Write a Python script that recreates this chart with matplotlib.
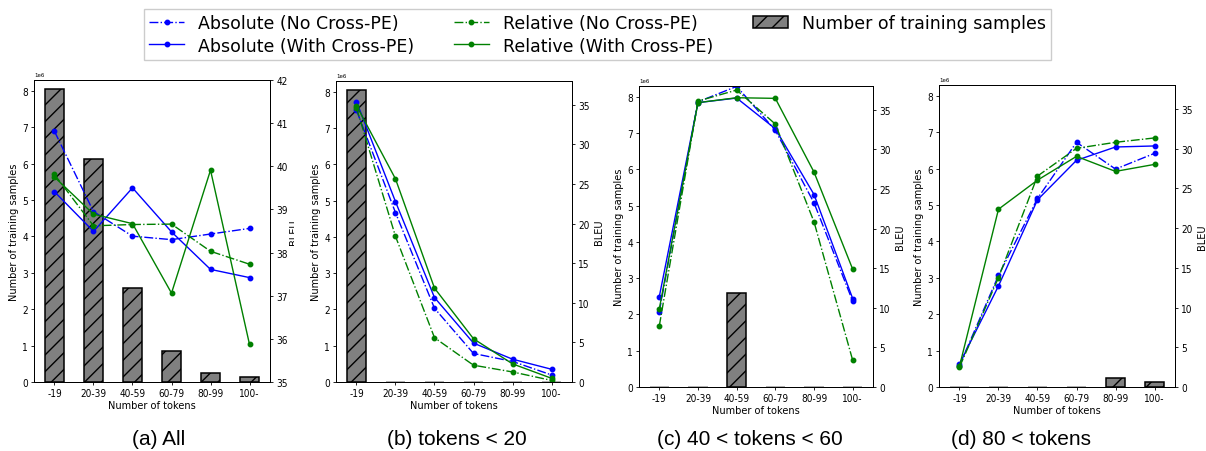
import matplotlib
matplotlib.use("Agg")
import matplotlib.pyplot as plt
from matplotlib.transforms import Bbox
from matplotlib import font_manager as fm
import numpy as np

categories = ["-19", "20-39", "40-59", "60-79", "80-99", "100-"]

# Number of training samples (millions) shown in each panel
samples_all = [8.05, 6.12, 2.58, 0.85, 0.26, 0.13]
samples_lt20 = [8.05, 0, 0, 0, 0, 0]
samples_40_60 = [0, 0, 2.58, 0, 0, 0]
samples_gt80 = [0, 0, 0, 0, 0.26, 0.13]

# BLEU per panel
abs_no_a = [40.81, 38.95, 38.38, 38.30, 38.43, 38.56]
abs_with_a = [39.41, 38.49, 39.50, 38.48, 37.61, 37.42]
rel_no_a = [39.81, 38.62, 38.65, 38.66, 38.03, 37.73]
rel_with_a = [39.75, 38.89, 38.67, 37.06, 39.91, 35.87]

abs_no_b = [34.3, 21.38, 9.31, 3.60, 2.60, 0.89]
abs_with_b = [35.4, 22.77, 10.66, 4.91, 2.88, 1.61]
rel_no_b = [34.6, 18.39, 5.59, 2.12, 1.27, 0.20]
rel_with_b = [34.9, 25.64, 11.85, 5.46, 2.29, 0.47]

abs_no_c = [9.52, 36.0, 37.95, 32.4, 23.25, 10.83]
abs_with_c = [11.42, 35.9, 36.48, 32.6, 24.3, 11.16]
rel_no_c = [7.71, 36.1, 37.49, 33.19, 20.85, 3.37]
rel_with_c = [9.86, 35.9, 36.52, 36.44, 27.13, 14.87]

abs_no_d = [2.7, 14.03, 23.72, 30.79, 27.42, 29.40]
abs_with_d = [2.9, 12.72, 23.55, 28.52, 30.20, 30.33]
rel_no_d = [2.5, 13.77, 26.54, 30.03, 30.79, 31.34]
rel_with_d = [2.6, 22.37, 26.03, 29.02, 27.13, 28.01]

captions = ["(a) All", "(b) tokens < 20", "(c) 40 < tokens < 60", "(d) 80 < tokens"]

panels = [
    (samples_all, abs_no_a, abs_with_a, rel_no_a, rel_with_a, (35, 42)),
    (samples_lt20, abs_no_b, abs_with_b, rel_no_b, rel_with_b, (0, 38)),
    (samples_40_60, abs_no_c, abs_with_c, rel_no_c, rel_with_c, (0, 38)),
    (samples_gt80, abs_no_d, abs_with_d, rel_no_d, rel_with_d, (0, 38)),
]

# Axes text in the reference is slightly narrow: use the condensed face if present
cond_path = None
for p in fm.findSystemFonts():
    if p.endswith("DejaVuSansCondensed.ttf"):
        cond_path = p
        break


def fp(size):
    if cond_path:
        return fm.FontProperties(fname=cond_path, size=size)
    return fm.FontProperties(family="DejaVu Sans", size=size * 0.93)


W, H = 1206, 452
fig = plt.figure(figsize=(W / 100, H / 100), dpi=100)

boxes_px = [(34, 270, 81, 383), (336, 572, 82, 383), (639, 873, 87, 388), (939, 1175, 86, 388)]
cap_x = [159, 457, 750, 1021]

TICK_FS = 7.2
LAB_FS = 7.8

x = np.arange(len(categories))
legend_handles = None
for i, (samples, a_no, a_with, r_no, r_with, blim) in enumerate(panels):
    l, r, t, b = boxes_px[i]
    ax = fig.add_axes([l / W, 1 - b / H, (r - l) / W, (b - t) / H])
    edge_cols = ["black" if v > 0 else "#9a9a9a" for v in samples]
    bars = ax.bar(x, np.array(samples) * 1e6, width=0.5, color="#808080",
                  edgecolor=edge_cols, linewidth=1.1, hatch="//",
                  label="Number of training samples")
    ax.set_ylim(0, 8.3e6)
    ax.set_xticks(x)
    ax.set_xticklabels(categories)
    ax.set_xlabel("Number of tokens", fontproperties=fp(LAB_FS), labelpad=1)
    ax.set_ylabel("Number of training samples", fontproperties=fp(LAB_FS), labelpad=2)
    ax.tick_params(length=2.5, width=0.6, pad=2)
    for lab in ax.get_xticklabels() + ax.get_yticklabels():
        lab.set_fontproperties(fp(TICK_FS))
    ax.yaxis.get_offset_text().set_fontsize(4)
    for s in ax.spines.values():
        s.set_linewidth(0.7)

    ax2 = ax.twinx()
    h1, = ax2.plot(x, a_no, "-.", color="blue", marker="o", markersize=3.2, lw=1.0,
                   label="Absolute (No Cross-PE)")
    h2, = ax2.plot(x, a_with, "-", color="blue", marker="o", markersize=3.2, lw=1.0,
                   label="Absolute (With Cross-PE)")
    h3, = ax2.plot(x, r_no, "-.", color="green", marker="o", markersize=3.2, lw=1.0,
                   label="Relative (No Cross-PE)")
    h4, = ax2.plot(x, r_with, "-", color="green", marker="o", markersize=3.2, lw=1.0,
                   label="Relative (With Cross-PE)")
    ax2.set_ylim(*blim)
    ylab = ax2.set_ylabel("BLEU", fontproperties=fp(LAB_FS), labelpad=3 if i else 1)
    ax2.tick_params(length=2.5, width=0.6, pad=2)
    for lab in ax2.get_yticklabels():
        lab.set_fontproperties(fp(TICK_FS))
    for s in ax2.spines.values():
        s.set_linewidth(0.7)
    if i == 0:
        ylab.set_clip_on(True)
        ylab.set_clip_box(Bbox.from_extents(0, 0, 294, H))
        legend_handles = [h1, h2, h3, h4, bars]

    fig.text(cap_x[i] / W, 1 - 440 / H, captions[i], ha="center", va="center",
             fontsize=15, family="Liberation Sans")

leg = fig.legend(handles=legend_handles,
                 labels=[h.get_label() for h in legend_handles],
                 loc="upper center", bbox_to_anchor=(597.5 / W, 1 - 10 / H), ncol=3,
                 fontsize=12.5, fancybox=False, edgecolor="#cccccc", framealpha=1,
                 handlelength=2.0, columnspacing=2.3, borderpad=0.3, labelspacing=0.25,
                 borderaxespad=0)
# the patch handle in the reference carries a black edge
leg.legend_handles[4].set_edgecolor("black")

fig.savefig("out.png", dpi=100)
